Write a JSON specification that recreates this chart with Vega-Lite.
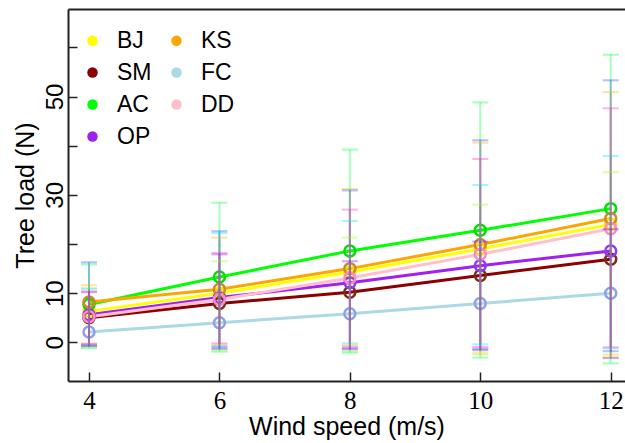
{
  "$schema": "https://vega.github.io/schema/vega-lite/v6.json",
  "width": 557,
  "height": 372,
  "autosize": "none",
  "padding": {"left": 68, "top": 9, "right": 0, "bottom": 62},
  "background": "white",
  "view": {"stroke": null},
  "config": {
    "font": "Liberation Sans",
    "axis": {"domainColor": "#222222", "domainWidth": 2, "tickColor": "#222222", "tickWidth": 1.5, "labelColor": "black", "titleColor": "black", "grid": false}
  },
  "data": {
    "values": [
      {"group": "BJ", "ws": 4, "load": 6.3, "lo": -1.0, "hi": 11.0},
      {"group": "BJ", "ws": 6, "load": 10.0, "lo": -1.6, "hi": 16.5},
      {"group": "BJ", "ws": 8, "load": 14.3, "lo": -1.8, "hi": 21.3},
      {"group": "BJ", "ws": 10, "load": 19.0, "lo": -2.0, "hi": 28.0},
      {"group": "BJ", "ws": 12, "load": 24.0, "lo": -3.0, "hi": 34.6},
      {"group": "SM", "ws": 4, "load": 5.0, "lo": -0.75, "hi": 10.9},
      {"group": "SM", "ws": 6, "load": 7.9, "lo": -0.75, "hi": 22.2},
      {"group": "SM", "ws": 8, "load": 10.2, "lo": -0.2, "hi": 24.7},
      {"group": "SM", "ws": 10, "load": 13.6, "lo": -0.4, "hi": 32.0},
      {"group": "SM", "ws": 12, "load": 16.9, "lo": -1.2, "hi": 37.9},
      {"group": "AC", "ws": 4, "load": 7.7, "lo": -1.2, "hi": 15.85},
      {"group": "AC", "ws": 6, "load": 13.3, "lo": -1.9, "hi": 28.4},
      {"group": "AC", "ws": 8, "load": 18.6, "lo": -2.1, "hi": 39.2},
      {"group": "AC", "ws": 10, "load": 22.8, "lo": -3.1, "hi": 48.8},
      {"group": "AC", "ws": 12, "load": 27.2, "lo": -4.3, "hi": 58.5},
      {"group": "OP", "ws": 4, "load": 5.6, "lo": -0.75, "hi": 10.2},
      {"group": "OP", "ws": 6, "load": 9.1, "lo": -1.3, "hi": 17.9},
      {"group": "OP", "ws": 8, "load": 12.1, "lo": -1.4, "hi": 16.5},
      {"group": "OP", "ws": 10, "load": 15.6, "lo": -1.55, "hi": 20.5},
      {"group": "OP", "ws": 12, "load": 18.6, "lo": -3.2, "hi": 23.0},
      {"group": "KS", "ws": 4, "load": 8.2, "lo": -0.3, "hi": 11.6},
      {"group": "KS", "ws": 6, "load": 10.8, "lo": -0.5, "hi": 21.3},
      {"group": "KS", "ws": 8, "load": 15.0, "lo": -0.6, "hi": 31.2},
      {"group": "KS", "ws": 10, "load": 19.9, "lo": -2.4, "hi": 40.6},
      {"group": "KS", "ws": 12, "load": 25.2, "lo": -2.5, "hi": 50.9},
      {"group": "FC", "ws": 4, "load": 2.1, "lo": -0.5, "hi": 16.3},
      {"group": "FC", "ws": 6, "load": 4.0, "lo": -1.0, "hi": 22.6},
      {"group": "FC", "ws": 8, "load": 5.8, "lo": -1.2, "hi": 30.9},
      {"group": "FC", "ws": 10, "load": 7.9, "lo": -1.3, "hi": 41.1},
      {"group": "FC", "ws": 12, "load": 10.0, "lo": -1.8, "hi": 53.3},
      {"group": "DD", "ws": 4, "load": 5.2, "lo": -0.3, "hi": 10.4},
      {"group": "DD", "ws": 6, "load": 8.7, "lo": -0.2, "hi": 18.2},
      {"group": "DD", "ws": 8, "load": 13.1, "lo": -0.9, "hi": 27.0},
      {"group": "DD", "ws": 10, "load": 17.9, "lo": -0.95, "hi": 37.3},
      {"group": "DD", "ws": 12, "load": 23.1, "lo": -1.0, "hi": 47.6}
    ]
  },
  "layer": [
    {
      "mark": {"type": "line", "strokeWidth": 3},
      "encoding": {
        "x": {"field": "ws", "type": "quantitative", "scale": {"domain": [3.678, 12.219], "nice": false, "zero": false},
          "axis": {"orient": "bottom", "values": [4, 6, 8, 10, 12], "ticks": false, "tickSize": 0, "labelPadding": 7, "labelFont": "Liberation Serif", "labelFontSize": 25, "title": "Wind speed (m/s)", "titleFont": "Liberation Sans", "titleFontSize": 25, "titleFontWeight": "normal", "titleY": 53, "titleBaseline": "alphabetic"}},
        "y": {"field": "load", "type": "quantitative", "title": "Tree load (N)", "scale": {"domain": [-7.86, 67.8], "nice": false, "zero": false},
          "axis": {"orient": "left", "values": [0, 10, 20, 30, 40, 50, 60], "ticks": false, "tickSize": 0, "labelPadding": 6, "labelAngle": -90, "labelAlign": "center", "labelBaseline": "alphabetic", "labelFont": "Liberation Sans", "labelFontSize": 24,
            "labelExpr": "datum.value == 20 || datum.value == 40 || datum.value == 60 ? '' : datum.label",
            "titleFont": "Liberation Sans", "titleFontSize": 25, "titleFontWeight": "normal", "titleX": -43, "titleBaseline": "middle"}},
        "color": {"field": "group", "type": "nominal",
          "scale": {"domain": ["BJ", "SM", "AC", "OP", "KS", "FC", "DD"], "range": ["#FFFF00", "#8B0000", "#00FF00", "#A020F0", "#FFA500", "#ADD8E6", "#FFC0CB"]},
          "legend": {"orient": "none", "legendX": 13, "legendY": 20, "columns": 2, "title": null, "symbolType": "circle", "symbolSize": 110, "labelFontSize": 23, "labelFont": "Liberation Sans", "labelColor": "black", "labelOffset": 13, "rowPadding": 8, "columnPadding": 13, "padding": 0,
            "encode": {"symbols": {"update": {"fill": {"scale": "color", "field": "value"}, "strokeWidth": {"value": 0}, "opacity": {"value": 1}}}}}
        }
      }
    },
    {
      "mark": {"type": "point", "filled": false, "size": 120, "strokeWidth": 2.5, "opacity": 1},
      "encoding": {
        "x": {"field": "ws", "type": "quantitative", "axis": {"orient": "top", "labels": false, "ticks": false, "title": null, "domain": true}},
        "y": {"field": "load", "type": "quantitative", "title": "Tree load (N)",
          "axis": {"orient": "left", "offset": -9, "values": [0, 10, 20, 30, 40, 50, 60], "domain": false, "labels": false, "ticks": true, "tickSize": 9, "title": null}},
        "stroke": {"field": "group", "type": "nominal", "legend": null,
          "scale": {"domain": ["BJ", "SM", "AC", "OP", "KS", "FC", "DD"], "range": ["#F2E600", "#7A2E0E", "#00E000", "#8A3CF5", "#C98A2E", "#8FA0E8", "#FF88C8"]}}
      }
    },
    {
      "mark": {"type": "rule", "strokeWidth": 2, "opacity": 0.35},
      "encoding": {
        "x": {"field": "ws", "type": "quantitative",
          "axis": {"orient": "bottom", "offset": -9, "values": [4, 6, 8, 10, 12], "domain": false, "labels": false, "ticks": true, "tickSize": 9, "title": null}},
        "y": {"field": "lo", "type": "quantitative", "axis": null},
        "y2": {"field": "hi"},
        "stroke": {"field": "group", "type": "nominal", "legend": null,
          "scale": {"domain": ["BJ", "SM", "AC", "OP", "KS", "FC", "DD"], "range": ["#99FF00", "#00E5FF", "#00FF40", "#8000FF", "#FFB000", "#2850FF", "#FF30C0"]}}
      }
    },
    {
      "mark": {"type": "tick", "orient": "horizontal", "size": 14, "thickness": 0.1, "filled": false, "strokeWidth": 2, "opacity": 0.35},
      "encoding": {
        "x": {"field": "ws", "type": "quantitative", "axis": null},
        "y": {"field": "lo", "type": "quantitative", "axis": null},
        "stroke": {"field": "group", "type": "nominal", "legend": null,
          "scale": {"domain": ["BJ", "SM", "AC", "OP", "KS", "FC", "DD"], "range": ["#99FF00", "#00E5FF", "#00FF40", "#8000FF", "#FFB000", "#2850FF", "#FF30C0"]}}
      }
    },
    {
      "mark": {"type": "tick", "orient": "horizontal", "size": 14, "thickness": 0.1, "filled": false, "strokeWidth": 2, "opacity": 0.35},
      "encoding": {
        "x": {"field": "ws", "type": "quantitative", "axis": null},
        "y": {"field": "hi", "type": "quantitative", "axis": null},
        "stroke": {"field": "group", "type": "nominal", "legend": null,
          "scale": {"domain": ["BJ", "SM", "AC", "OP", "KS", "FC", "DD"], "range": ["#99FF00", "#00E5FF", "#00FF40", "#8000FF", "#FFB000", "#2850FF", "#FF30C0"]}}
      }
    }
  ],
  "resolve": {"scale": {"stroke": "independent"}, "axis": {"x": "independent", "y": "independent"}}
}
